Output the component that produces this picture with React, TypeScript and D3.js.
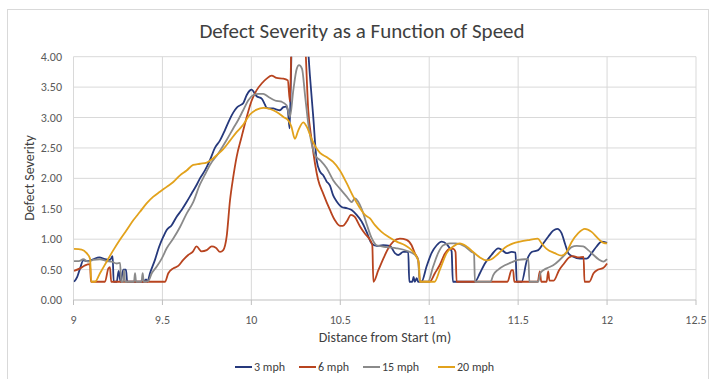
import * as d3 from "d3";

// Defect severity readings (distance m, severity) for each speed
const mph3: [number, number][] = [
  [9.003, 0.3], [9.021, 0.38], [9.037, 0.52], [9.055, 0.65], [9.083, 0.64], [9.111, 0.67], [9.145, 0.7],
  [9.177, 0.67], [9.205, 0.66], [9.22, 0.72], [9.226, 0.3], [9.243, 0.3], [9.254, 0.48], [9.265, 0.3],
  [9.28, 0.5], [9.295, 0.5], [9.302, 0.3], [9.392, 0.3], [9.408, 0.34], [9.415, 0.3], [9.43, 0.44],
  [9.458, 0.66], [9.482, 0.88], [9.505, 1.04], [9.524, 1.15], [9.552, 1.23], [9.58, 1.37], [9.608, 1.48],
  [9.636, 1.61], [9.664, 1.75], [9.692, 1.89], [9.711, 2.0], [9.739, 2.13], [9.767, 2.3], [9.795, 2.5],
  [9.823, 2.62], [9.851, 2.79], [9.875, 2.95], [9.898, 3.08], [9.917, 3.16], [9.936, 3.2], [9.955, 3.24],
  [9.974, 3.37], [9.99, 3.44], [10.002, 3.46], [10.018, 3.4], [10.03, 3.35], [10.058, 3.31], [10.075, 3.22],
  [10.086, 3.16], [10.105, 3.15], [10.123, 3.15], [10.142, 3.13], [10.16, 3.12], [10.18, 3.17], [10.195, 3.18],
  [10.205, 3.12], [10.215, 2.82], [10.222, 3.6], [10.232, 4.8], [10.3, 4.8], [10.31, 4.5], [10.329, 3.7],
  [10.348, 3.01], [10.367, 2.3], [10.386, 2.11], [10.404, 2.05], [10.423, 1.95], [10.442, 1.88], [10.46, 1.72],
  [10.48, 1.62], [10.508, 1.53], [10.536, 1.51], [10.564, 1.48], [10.592, 1.4], [10.62, 1.29], [10.648, 1.12],
  [10.676, 0.93], [10.704, 0.89], [10.741, 0.9], [10.779, 0.89], [10.807, 0.77], [10.826, 0.74], [10.854, 0.79],
  [10.882, 0.79], [10.888, 0.3], [10.905, 0.3], [10.912, 0.38], [10.919, 0.3], [10.93, 0.36], [10.938, 0.3],
  [10.957, 0.3], [10.985, 0.55], [11.013, 0.77], [11.042, 0.9], [11.07, 0.96], [11.098, 0.92], [11.116, 0.85],
  [11.126, 0.8], [11.133, 0.3], [11.257, 0.3], [11.285, 0.44], [11.313, 0.6], [11.35, 0.74], [11.388, 0.85],
  [11.41, 0.82], [11.435, 0.77], [11.463, 0.79], [11.485, 0.78], [11.492, 0.3], [11.52, 0.3], [11.548, 0.64],
  [11.576, 0.79], [11.613, 0.82], [11.641, 0.93], [11.669, 1.04], [11.697, 1.14], [11.72, 1.17], [11.744, 1.1],
  [11.763, 0.93], [11.782, 0.77], [11.81, 0.71], [11.847, 0.68], [11.885, 0.68], [11.913, 0.77], [11.941, 0.88],
  [11.969, 0.96], [12.0, 0.94],
];

const mph6: [number, number][] = [
  [9.003, 0.48], [9.037, 0.52], [9.065, 0.57], [9.093, 0.59], [9.098, 0.3], [9.177, 0.3], [9.196, 0.52],
  [9.205, 0.54], [9.212, 0.3], [9.514, 0.3], [9.533, 0.44], [9.561, 0.52], [9.589, 0.56], [9.617, 0.66],
  [9.645, 0.74], [9.67, 0.79], [9.692, 0.88], [9.72, 0.8], [9.749, 0.82], [9.777, 0.88], [9.8, 0.86],
  [9.824, 0.79], [9.842, 0.82], [9.861, 1.04], [9.88, 1.64], [9.898, 2.02], [9.917, 2.35], [9.945, 2.68],
  [9.974, 3.01], [10.002, 3.28], [10.03, 3.45], [10.058, 3.56], [10.086, 3.64], [10.114, 3.69], [10.142, 3.65],
  [10.18, 3.64], [10.205, 3.61], [10.217, 3.26], [10.225, 4.2], [10.232, 4.8], [10.29, 4.8], [10.3, 4.4],
  [10.32, 3.12], [10.339, 2.63], [10.358, 2.24], [10.375, 1.98], [10.404, 1.75], [10.442, 1.48], [10.47, 1.31],
  [10.498, 1.22], [10.515, 1.22], [10.536, 1.29], [10.56, 1.4], [10.58, 1.37], [10.611, 1.21], [10.639, 1.09],
  [10.667, 0.99], [10.68, 0.9], [10.686, 0.3], [10.714, 0.49], [10.742, 0.68], [10.77, 0.85], [10.798, 0.96],
  [10.835, 1.01], [10.873, 0.99], [10.901, 0.9], [10.919, 0.77], [10.938, 0.66], [10.948, 0.3], [11.003, 0.3],
  [11.032, 0.44], [11.06, 0.58], [11.088, 0.76], [11.116, 0.84], [11.135, 0.84], [11.148, 0.79], [11.154, 0.3],
  [11.44, 0.3], [11.463, 0.49], [11.472, 0.49], [11.478, 0.3], [11.61, 0.3], [11.622, 0.47], [11.63, 0.3],
  [11.66, 0.3], [11.669, 0.47], [11.676, 0.32], [11.7, 0.32], [11.73, 0.49], [11.758, 0.6], [11.786, 0.7],
  [11.81, 0.72], [11.84, 0.7], [11.868, 0.71], [11.873, 0.3], [11.9, 0.3], [11.924, 0.44], [11.95, 0.5],
  [11.98, 0.53], [12.0, 0.6],
];

const mph15: [number, number][] = [
  [9.003, 0.64], [9.03, 0.64], [9.055, 0.67], [9.083, 0.63], [9.111, 0.66], [9.149, 0.67], [9.186, 0.64],
  [9.214, 0.63], [9.243, 0.6], [9.262, 0.61], [9.268, 0.3], [9.279, 0.3], [9.284, 0.49], [9.29, 0.3],
  [9.34, 0.3], [9.346, 0.44], [9.352, 0.3], [9.382, 0.3], [9.389, 0.44], [9.395, 0.3], [9.42, 0.31],
  [9.44, 0.44], [9.468, 0.55], [9.496, 0.68], [9.524, 0.85], [9.561, 1.01], [9.599, 1.2], [9.636, 1.42],
  [9.673, 1.61], [9.711, 1.9], [9.739, 2.06], [9.767, 2.22], [9.814, 2.41], [9.861, 2.63], [9.898, 2.82],
  [9.926, 2.96], [9.954, 3.12], [9.982, 3.28], [10.011, 3.37], [10.039, 3.39], [10.067, 3.39], [10.095, 3.34],
  [10.133, 3.28], [10.17, 3.26], [10.198, 3.2], [10.217, 3.01], [10.236, 3.45], [10.255, 3.8], [10.268, 3.86],
  [10.285, 3.8], [10.301, 3.39], [10.32, 2.9], [10.339, 2.57], [10.358, 2.38], [10.386, 2.3], [10.423, 2.17],
  [10.46, 1.97], [10.498, 1.83], [10.536, 1.7], [10.564, 1.61], [10.582, 1.67], [10.6, 1.62], [10.62, 1.5],
  [10.648, 1.25], [10.676, 1.02], [10.704, 0.9], [10.76, 0.87], [10.817, 0.85], [10.873, 0.81], [10.92, 0.74],
  [10.938, 0.66], [10.946, 0.3], [10.993, 0.3], [11.022, 0.55], [11.05, 0.77], [11.079, 0.9], [11.116, 0.93],
  [11.15, 0.93], [11.201, 0.88], [11.238, 0.79], [11.252, 0.77], [11.257, 0.3], [11.345, 0.3], [11.36, 0.41],
  [11.388, 0.5], [11.425, 0.57], [11.463, 0.62], [11.5, 0.66], [11.537, 0.67], [11.558, 0.67], [11.563, 0.3],
  [11.613, 0.3], [11.626, 0.45], [11.66, 0.52], [11.697, 0.57], [11.73, 0.65], [11.767, 0.76], [11.8, 0.87],
  [11.83, 0.89], [11.866, 0.88], [11.894, 0.82], [11.924, 0.74], [11.952, 0.67], [11.98, 0.63], [12.0, 0.67],
];

const mph20: [number, number][] = [
  [9.003, 0.84], [9.046, 0.83], [9.074, 0.77], [9.093, 0.68], [9.1, 0.3], [9.121, 0.3], [9.149, 0.44],
  [9.186, 0.63], [9.224, 0.82], [9.261, 0.99], [9.299, 1.15], [9.336, 1.31], [9.374, 1.45], [9.411, 1.59],
  [9.449, 1.7], [9.486, 1.78], [9.524, 1.86], [9.561, 1.94], [9.599, 2.05], [9.636, 2.13], [9.673, 2.22],
  [9.711, 2.24], [9.749, 2.26], [9.777, 2.31], [9.805, 2.38], [9.842, 2.48], [9.88, 2.62], [9.917, 2.76],
  [9.954, 2.88], [9.992, 3.05], [10.03, 3.13], [10.067, 3.16], [10.105, 3.14], [10.142, 3.09], [10.18, 3.01],
  [10.208, 2.95], [10.225, 2.85], [10.245, 2.65], [10.264, 2.79], [10.292, 2.92], [10.311, 2.85], [10.339, 2.65],
  [10.367, 2.49], [10.386, 2.42], [10.423, 2.35], [10.46, 2.27], [10.498, 2.13], [10.536, 1.92], [10.573, 1.7],
  [10.611, 1.51], [10.639, 1.4], [10.667, 1.34], [10.695, 1.23], [10.732, 1.12], [10.77, 1.04], [10.817, 0.96],
  [10.864, 0.9], [10.901, 0.82], [10.929, 0.71], [10.942, 0.6], [10.948, 0.3], [11.03, 0.3], [11.06, 0.5],
  [11.098, 0.77], [11.135, 0.88], [11.172, 0.93], [11.21, 0.88], [11.247, 0.79], [11.285, 0.7], [11.322, 0.65],
  [11.35, 0.67], [11.388, 0.76], [11.425, 0.86], [11.472, 0.93], [11.51, 0.96], [11.566, 0.99], [11.61, 1.01],
  [11.632, 0.93], [11.66, 0.84], [11.706, 0.77], [11.744, 0.73], [11.772, 0.79], [11.8, 0.95], [11.838, 1.1],
  [11.875, 1.17], [11.913, 1.12], [11.95, 1.01], [11.98, 0.94], [12.0, 0.93],
];

const seriesNames = ["3 mph", "6 mph", "15 mph", "20 mph"];
const seriesColors = ["#26397c", "#b8441f", "#8a8a8a", "#e2a21c"];
const xTicks = [9, 9.5, 10, 10.5, 11, 11.5, 12, 12.5];
const yTicks = [0, 0.5, 1, 1.5, 2, 2.5, 3, 3.5, 4];

const W = 711;
const H = 379;
const font = "Carlito, Calibri, Lato, sans-serif";

export default function App() {
  const x = d3.scaleLinear().domain([9, 12.5]).range([73.5, 696]);
  const y = d3.scaleLinear().domain([0, 4]).range([300, 56.7]);
  const line = d3
    .line<[number, number]>()
    .x((d) => x(d[0]))
    .y((d) => y(d[1]))
    .curve(d3.curveMonotoneX);

  const all = [mph3, mph6, mph15, mph20];
  const legendX = [235, 299, 363, 438];

  return (
    <svg
      width={W}
      height={H}
      style={{ position: "absolute", left: 0, top: 0, background: "#fff" }}
      fontFamily={font}
    >
      <rect x={7.5} y={9.5} width={701} height={380} fill="#fff" stroke="#d9d9d9" />
      <text x={362} y={38} textAnchor="middle" fontSize={21} fill="#404040">
        Defect Severity as a Function of Speed
      </text>

      <defs>
        <clipPath id="plot">
          <rect x={73.5} y={56.7} width={622.5} height={243.3} />
        </clipPath>
      </defs>

      {yTicks.map((t) => (
        <g key={"y" + t}>
          {t > 0 && (
            <line x1={73.5} x2={696} y1={y(t)} y2={y(t)} stroke="#d9d9d9" strokeWidth={1} />
          )}
          <text x={62} y={y(t) + 4} textAnchor="end" fontSize={12} fill="#595959">
            {d3.format(".2f")(t)}
          </text>
        </g>
      ))}
      {xTicks.map((t) => (
        <g key={"x" + t}>
          <line x1={x(t)} x2={x(t)} y1={56.7} y2={300} stroke="#d9d9d9" strokeWidth={1} />
          <line x1={x(t)} x2={x(t)} y1={300} y2={305} stroke="#bfbfbf" strokeWidth={1} />
          <text x={x(t)} y={324} textAnchor="middle" fontSize={12} fill="#595959">
            {t}
          </text>
        </g>
      ))}
      <line x1={73.5} x2={696} y1={300} y2={300} stroke="#bfbfbf" strokeWidth={1} />

      <g clipPath="url(#plot)">
        {all.map((s, i) => (
          <path
            key={seriesNames[i]}
            d={line(s) ?? ""}
            fill="none"
            stroke={seriesColors[i]}
            strokeWidth={1.8}
            strokeLinejoin="round"
          />
        ))}
      </g>

      <text x={385} y={342} textAnchor="middle" fontSize={14} fill="#404040">
        Distance from Start (m)
      </text>
      <text
        transform="translate(34,178) rotate(-90)"
        textAnchor="middle"
        fontSize={14}
        fill="#404040"
      >
        Defect Severity
      </text>

      {seriesNames.map((n, i) => (
        <g key={n}>
          <line
            x1={legendX[i]}
            x2={legendX[i] + 17}
            y1={367}
            y2={367}
            stroke={seriesColors[i]}
            strokeWidth={2}
          />
          <text x={legendX[i] + 19} y={371} fontSize={12} fill="#404040">
            {n}
          </text>
        </g>
      ))}
    </svg>
  );
}
